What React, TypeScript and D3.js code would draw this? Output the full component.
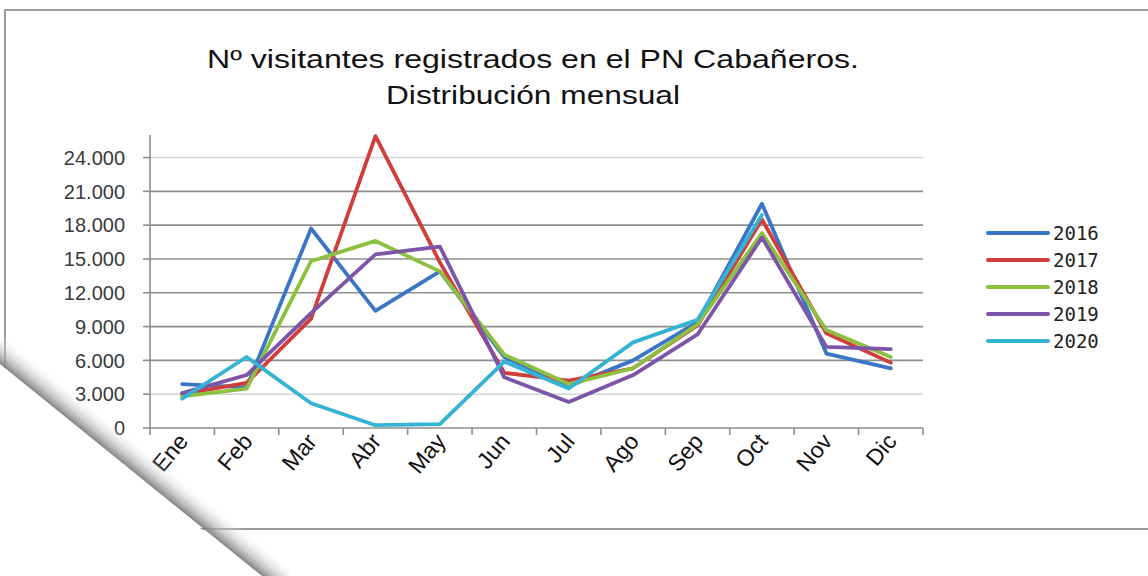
import * as d3 from 'd3';

// monthly visitors, PN Cabañeros
const months = ['Ene', 'Feb', 'Mar', 'Abr', 'May', 'Jun', 'Jul', 'Ago', 'Sep', 'Oct', 'Nov', 'Dic'];
const years = ['2016', '2017', '2018', '2019', '2020'];
const v2016 = [3900, 3600, 17700, 10400, 13900, 6300, 3700, 6000, 9400, 19900, 6600, 5300];
const v2017 = [3000, 4000, 9700, 25900, 14700, 4900, 4200, 5300, 9100, 18500, 8400, 5800];
const v2018 = [2800, 3500, 14800, 16600, 13900, 6500, 3900, 5300, 9200, 17300, 8700, 6300];
const v2019 = [3100, 4700, 10200, 15400, 16100, 4500, 2300, 4700, 8300, 16900, 7200, 7000];
const v2020 = [2600, 6300, 2200, 250, 350, 5900, 3500, 7600, 9600, 18900];
const yTicks = [0, 3000, 6000, 9000, 12000, 15000, 18000, 21000, 24000];
const colors = ['#3b76c6', '#d03e3c', '#8cc03e', '#7c55a8', '#35b3d5'];

const series = [v2016, v2017, v2018, v2019, v2020];

const fmt = (v: number) => (v === 0 ? '0' : d3.format(',')(v).replace(/,/g, '.'));

export default function App() {
  const width = 1148;
  const height = 576;
  const margin = { left: 150, right: 225, top: 135, bottom: 148 };

  const x = d3
    .scaleBand()
    .domain(months)
    .range([margin.left, width - margin.right]);
  const y = d3
    .scaleLinear()
    .domain([0, 26000])
    .range([height - margin.bottom, margin.top]);

  const cx = (m: string) => (x(m) ?? 0) + x.bandwidth() / 2;
  const line = d3
    .line<number>()
    .x((_, i) => cx(months[i]))
    .y(d => y(d));

  const x0 = margin.left;
  const x1 = width - margin.right;
  const y0 = y(0);

  // page curl geometry (bottom-left corner)
  const ax = 5, ay = 368, bx = 262, by = 576;
  const len = Math.hypot(bx - ax, by - ay);
  const ux = (bx - ax) / len, uy = (by - ay) / len;
  const px = uy, py = -ux;
  const sh = 26;
  const gy = ay + (100 - ax) * (by - ay) / (bx - ax);

  return (
    <svg width={width} height={height} style={{ position: 'absolute', left: 0, top: 0, background: '#fff' }}>
      <defs>
        <linearGradient id="curlShadow" gradientUnits="userSpaceOnUse"
          x1={100} y1={gy} x2={100 + px * sh} y2={gy + py * sh}>
          <stop offset="0" stopColor="#7c7c7c" stopOpacity={0.95} />
          <stop offset="0.35" stopColor="#b0b0b0" stopOpacity={0.65} />
          <stop offset="1" stopColor="#ffffff" stopOpacity={0} />
        </linearGradient>
      </defs>

      {/* frame */}
      <path d={`M5,${ay} V10 H${width}`} fill="none" stroke="#9a9a9a" strokeWidth={2} />
      <path d={`M200,529 H${width}`} fill="none" stroke="#9a9a9a" strokeWidth={2} />

      {/* title */}
      <g fontFamily="'Liberation Sans', Arial, sans-serif" fontSize={25} fill="#111" textAnchor="middle">
        <text x={533} y={68} textLength={652} lengthAdjust="spacingAndGlyphs">Nº visitantes registrados en el PN Cabañeros.</text>
        <text x={533} y={104} textLength={294} lengthAdjust="spacingAndGlyphs">Distribución mensual</text>
      </g>

      {/* gridlines */}
      {yTicks.filter(t => t > 0).map(t => (
        <line key={t} x1={x0} x2={x1} y1={y(t)} y2={y(t)}
          stroke={t === 24000 || t === 3000 ? '#d4d4d4' : '#8e8e8e'} strokeWidth={1.6} />
      ))}

      {/* y axis */}
      <line x1={x0} x2={x0} y1={y(26000)} y2={y0} stroke="#8e8e8e" strokeWidth={1.6} />
      {yTicks.map(t => (
        <g key={t}>
          <line x1={x0 - 7} x2={x0} y1={y(t)} y2={y(t)} stroke="#8e8e8e" strokeWidth={1.6} />
          <text x={125} y={y(t)} dy="0.36em" textAnchor="end" fontFamily="'Liberation Sans', Arial, sans-serif"
            fontSize={20} fill="#3a3a3a">{fmt(t)}</text>
        </g>
      ))}

      {/* x axis */}
      <line x1={x0} x2={x1} y1={y0} y2={y0} stroke="#8e8e8e" strokeWidth={1.6} />
      {[...months.map(m => x(m) ?? 0), x1].map((t, i) => (
        <line key={i} x1={t} x2={t} y1={y0} y2={y0 + 7} stroke="#8e8e8e" strokeWidth={1.6} />
      ))}
      {months.map(m => (
        <text key={m} transform={`translate(${cx(m) + 7},${y0 + 14}) rotate(-50)`} textAnchor="end"
          fontFamily="'Liberation Sans', Arial, sans-serif" fontSize={23} fill="#111">{m}</text>
      ))}

      {/* series */}
      {series.map((s, i) => (
        <path key={years[i]} d={line(s) ?? ''} fill="none" stroke={colors[i]} strokeWidth={3.8}
          strokeLinejoin="round" strokeLinecap="round" />
      ))}

      {/* legend */}
      {years.map((yr, i) => {
        const ly = 233 + i * 27;
        return (
          <g key={yr}>
            <line x1={988} x2={1048} y1={ly} y2={ly} stroke={colors[i]} strokeWidth={4} strokeLinecap="round" />
            <text x={1053} y={ly} dy="0.36em" fontFamily="'DejaVu Sans Mono', monospace" fontSize={19} fill="#222">{yr}</text>
          </g>
        );
      })}

      {/* page curl */}
      <polygon
        points={`${ax - 20 * ux},${ay - 20 * uy} ${bx + 20 * ux},${by + 20 * uy} ${bx + 20 * ux + px * sh},${by + 20 * uy + py * sh} ${ax - 20 * ux + px * sh},${ay - 20 * uy + py * sh}`}
        fill="url(#curlShadow)" />
      <polygon points={`-5,${ay - 4} ${bx + 4},${height + 5} -5,${height + 5}`} fill="#ffffff" />
    </svg>
  );
}
